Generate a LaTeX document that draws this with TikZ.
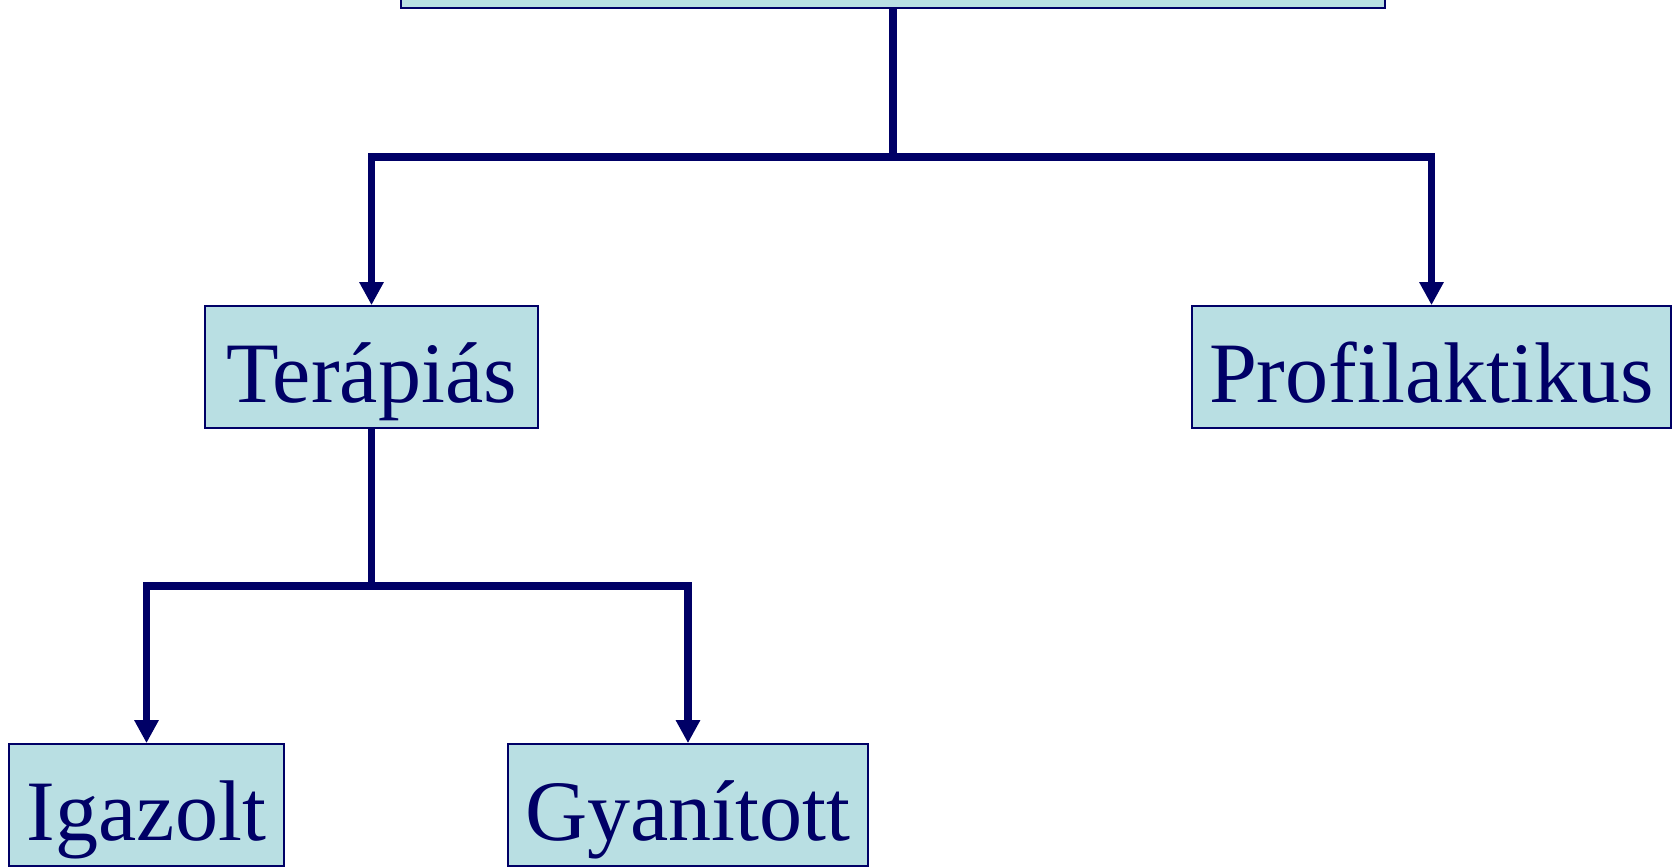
\documentclass[tikz,border=0pt]{standalone}
\usepackage{fontspec}
\setmainfont{Liberation Serif}
\usepackage{tikz}
\usetikzlibrary{arrows.meta, positioning}
\definecolor{treenavy}{HTML}{000066}
\definecolor{treecyan}{HTML}{B9DFE3}

\begin{document}
\begin{tikzpicture}[
  x=0.02cm, y=-0.02cm,
  catbox/.style={rectangle, draw=treenavy, fill=treecyan, line width=1pt,
    inner sep=0pt, minimum height=2.44cm, text=treenavy,
    text height=1.6cm, text depth=0.18cm,
    font=\fontsize{49}{58}\selectfont},
  branch/.style={draw=treenavy, line width=4.2pt},
  leaf/.style={branch, -{Triangle[width=0.46cm, length=0.46cm]}},
]
  \useasboundingbox (0,0) rectangle (1674,866);
  \clip (0,0) rectangle (1674,866);

  % boxes
  \node[catbox, minimum width=19.68cm] (root) at (893,-53) {};
  \node[catbox, minimum width=6.66cm] (ter) at (371.5,367) {Terápiás};
  \node[catbox, minimum width=9.58cm] (pro) at (1431.5,367) {Profilaktikus};
  \node[catbox, minimum width=5.5cm] (iga) at (146.5,805) {Igazolt};
  \node[catbox, minimum width=7.2cm] (gya) at (688,805) {Gyanított};

  % connectors
  \coordinate (fork1) at (root.south |- 0,157);
  \coordinate (fork2) at (ter.south |- 0,586);
  \draw[branch] (root.south) -- (fork1);
  \draw[leaf] (fork1) -| (ter.north);
  \draw[leaf] (fork1) -| (pro.north);
  \draw[branch] (ter.south) -- (fork2);
  \draw[leaf] (fork2) -| (iga.north);
  \draw[leaf] (fork2) -| (gya.north);
\end{tikzpicture}
\end{document}
